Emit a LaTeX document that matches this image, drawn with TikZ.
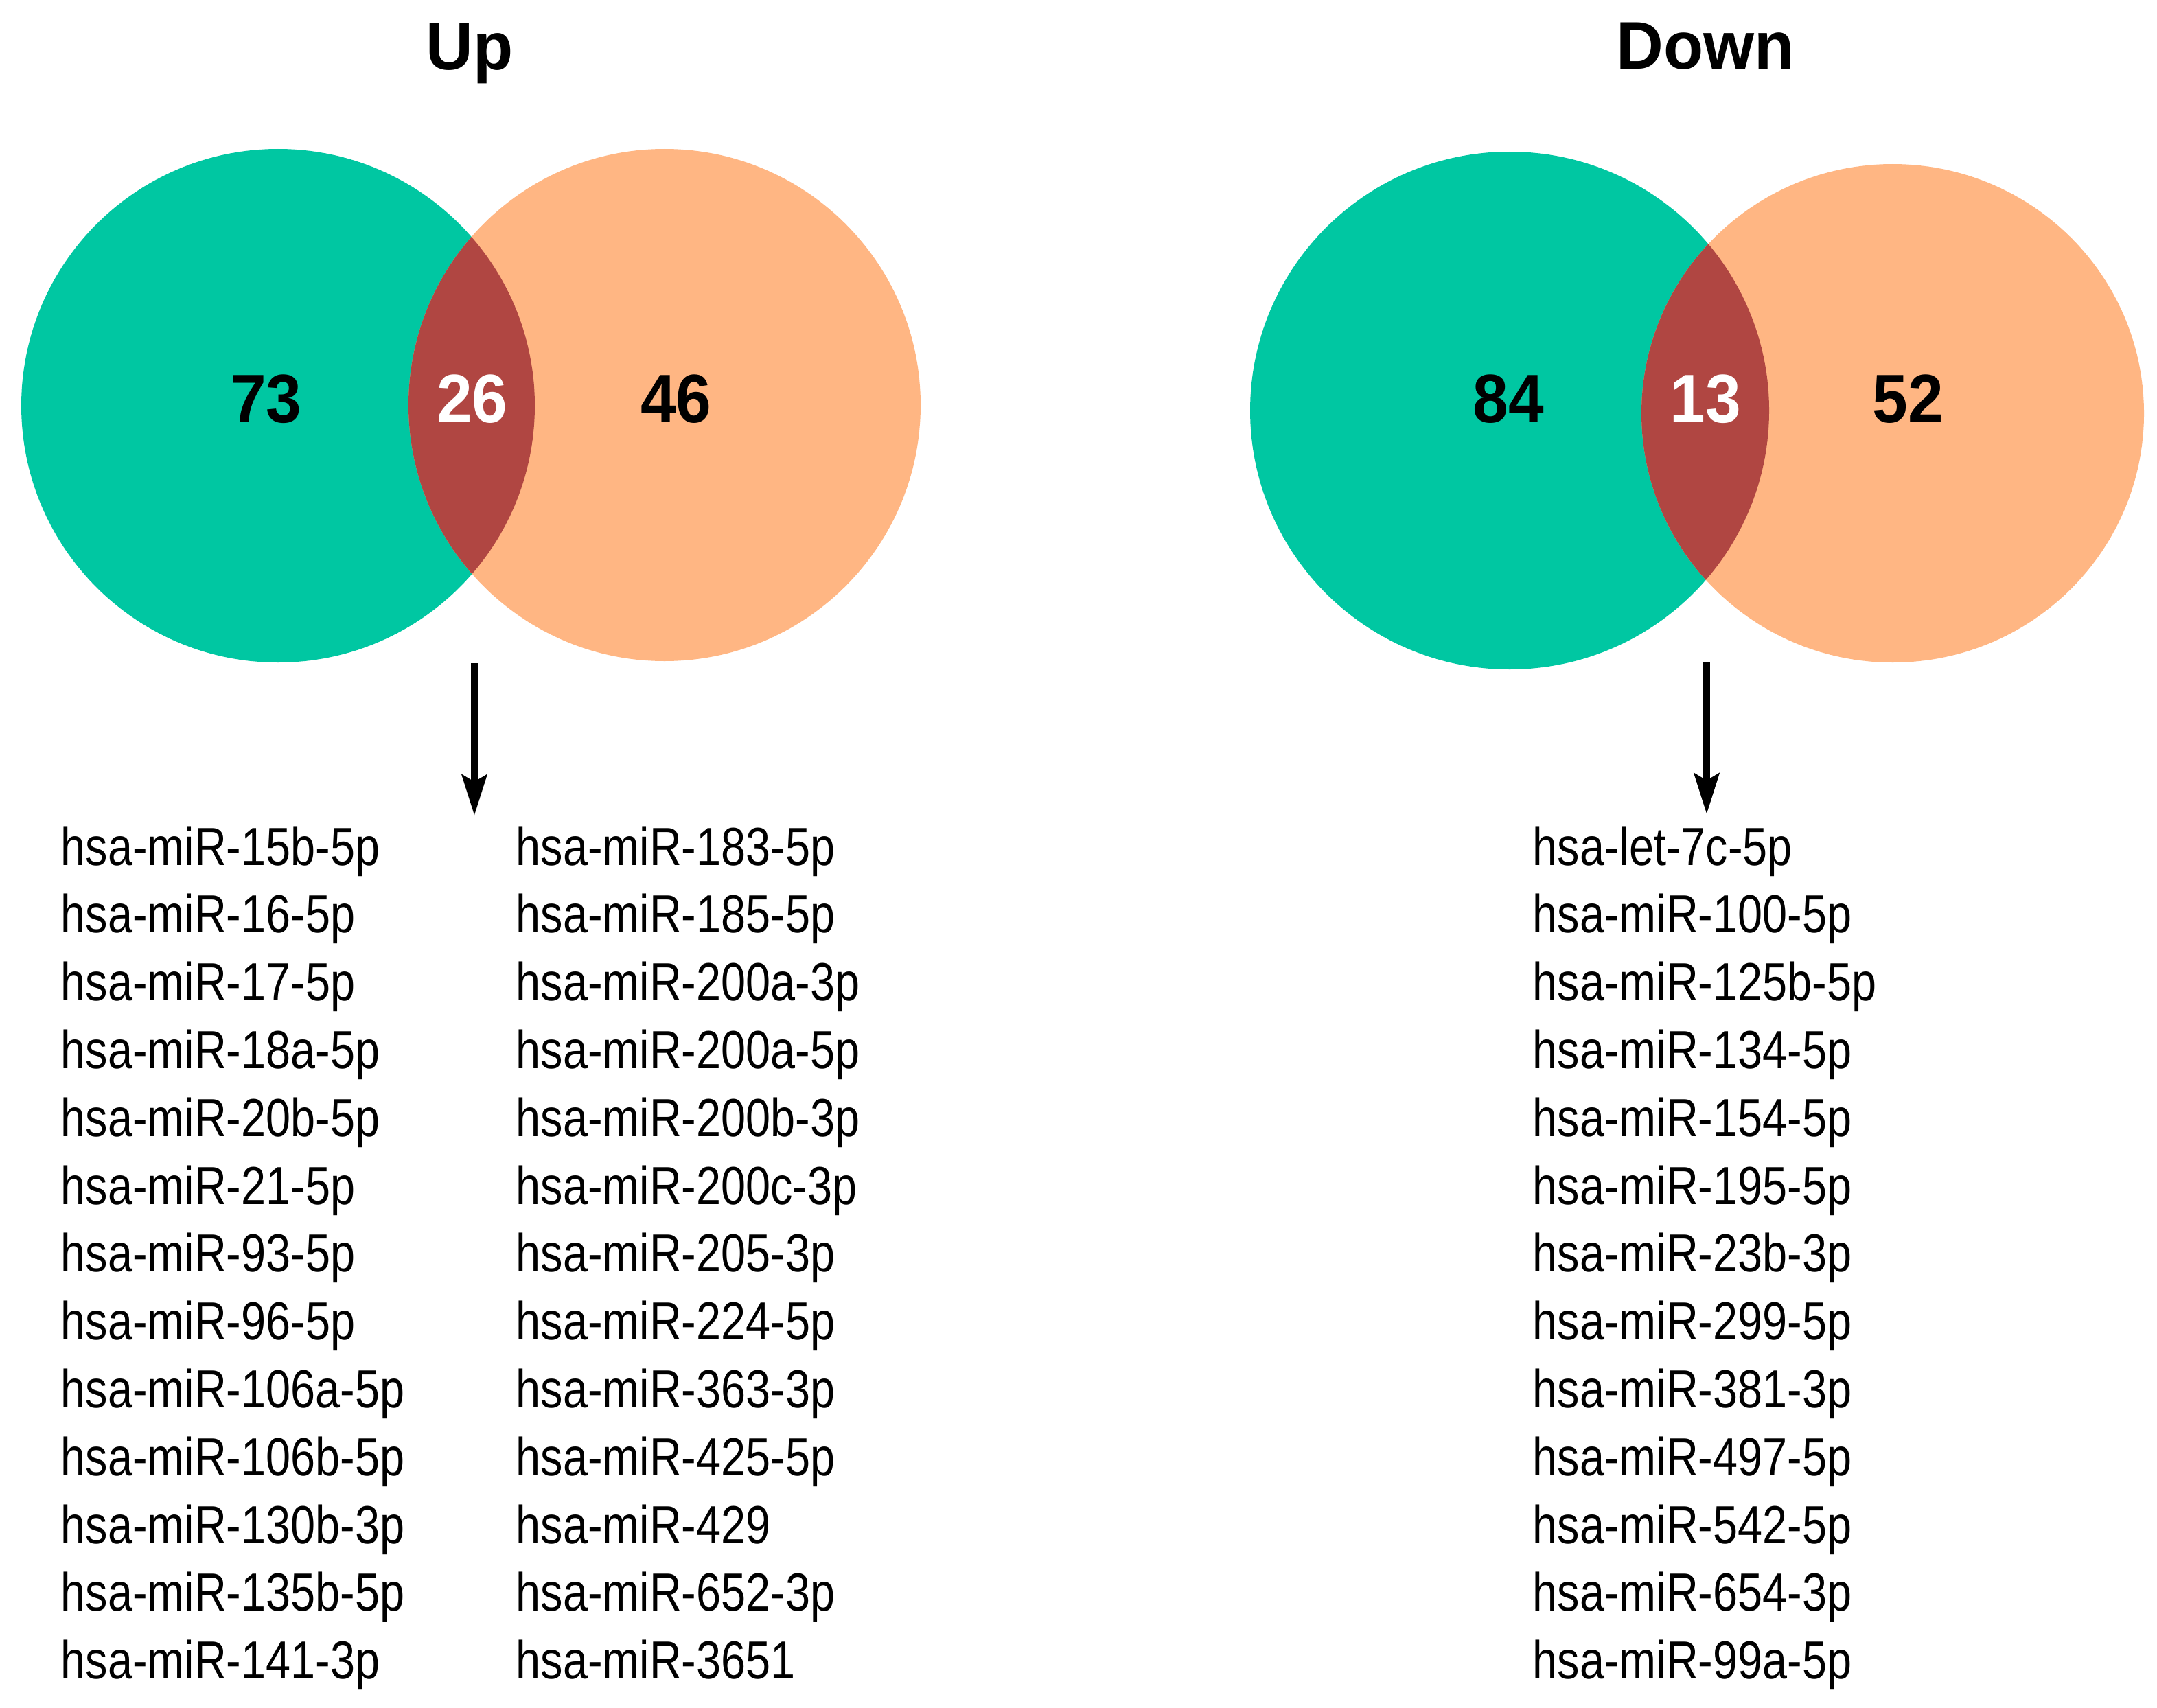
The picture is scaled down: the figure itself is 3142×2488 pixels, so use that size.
\documentclass[tikz,border=0pt]{standalone}
\usepackage{fontspec}
\setmainfont{Liberation Sans}
\newfontfamily\listfont[FakeStretch=0.83]{Liberation Sans}
\newfontfamily\boldfont[FakeStretch=0.93]{Liberation Sans}
\newfontfamily\headfont[FakeStretch=0.97]{Liberation Sans}
\usetikzlibrary{arrows.meta}
\definecolor{vgreen}{RGB}{0,199,162}
\definecolor{vorange}{RGB}{255,182,131}
\definecolor{vred}{RGB}{176,70,66}
\begin{document}
\begin{tikzpicture}[x=0.01cm,y=-0.01cm,
  item/.style={anchor=base west, inner sep=0pt, font=\listfont\fontsize{22.2pt}{26pt}\selectfont},
  count/.style={inner sep=0pt, font=\boldfont\bfseries\fontsize{28.4pt}{32pt}\selectfont},
  heading/.style={anchor=base, inner sep=0pt, font=\headfont\bfseries\fontsize{27.9pt}{32pt}\selectfont},
  pointer/.style={line width=3.1pt, -{Stealth[length=0.59cm,width=0.36cm,inset=0.1cm]}}]
\useasboundingbox[fill=white] (0,0) rectangle (3142,2488);

% ---------- Up ----------
\node[heading] (upTitle) at (684,102) {Up};
\fill[vgreen] (405,591) circle [radius=374];
\fill[vorange] (968,590) circle [radius=373];
\begin{scope}
  \clip (405,591) circle [radius=374];
  \fill[vred] (968,590) circle [radius=373];
\end{scope}
\node[count] (upA) at (388,581) {73};
\node[count, text=white] (upAB) at (688,581) {26};
\node[count] (upB) at (985,581) {46};

\coordinate (upStart) at (691,966);
\coordinate (upEnd) at (691,1188);
\draw[pointer] (upStart) -- (upEnd);

\foreach \t [count=\i] in {hsa-miR-15b-5p,hsa-miR-16-5p,hsa-miR-17-5p,hsa-miR-18a-5p,hsa-miR-20b-5p,hsa-miR-21-5p,hsa-miR-93-5p,hsa-miR-96-5p,hsa-miR-106a-5p,hsa-miR-106b-5p,hsa-miR-130b-3p,hsa-miR-135b-5p,hsa-miR-141-3p}
  \node[item] (ul\i) at (88,{1260+(\i-1)*98.8}) {\t};
\foreach \t [count=\i] in {hsa-miR-183-5p,hsa-miR-185-5p,hsa-miR-200a-3p,hsa-miR-200a-5p,hsa-miR-200b-3p,hsa-miR-200c-3p,hsa-miR-205-3p,hsa-miR-224-5p,hsa-miR-363-3p,hsa-miR-425-5p,hsa-miR-429,hsa-miR-652-3p,hsa-miR-3651}
  \node[item] (ur\i) at (751,{1260+(\i-1)*98.8}) {\t};

% ---------- Down ----------
\node[heading] (dnTitle) at (2484,101) {Down};
\fill[vgreen] (2199,598) ellipse [x radius=378, y radius=377];
\fill[vorange] (2757,602) ellipse [x radius=366, y radius=363];
\begin{scope}
  \clip (2199,598) ellipse [x radius=378, y radius=377];
  \fill[vred] (2757,602) ellipse [x radius=366, y radius=363];
\end{scope}
\node[count] (dnA) at (2197,581) {84};
\node[count, text=white] (dnAB) at (2484,581) {13};
\node[count] (dnB) at (2779,581) {52};

\coordinate (dnStart) at (2486,965);
\coordinate (dnEnd) at (2486,1186);
\draw[pointer] (dnStart) -- (dnEnd);

\foreach \t [count=\i] in {hsa-let-7c-5p,hsa-miR-100-5p,hsa-miR-125b-5p,hsa-miR-134-5p,hsa-miR-154-5p,hsa-miR-195-5p,hsa-miR-23b-3p,hsa-miR-299-5p,hsa-miR-381-3p,hsa-miR-497-5p,hsa-miR-542-5p,hsa-miR-654-3p,hsa-miR-99a-5p}
  \node[item] (dl\i) at (2232,{1260+(\i-1)*98.8}) {\t};
\end{tikzpicture}
\end{document}
